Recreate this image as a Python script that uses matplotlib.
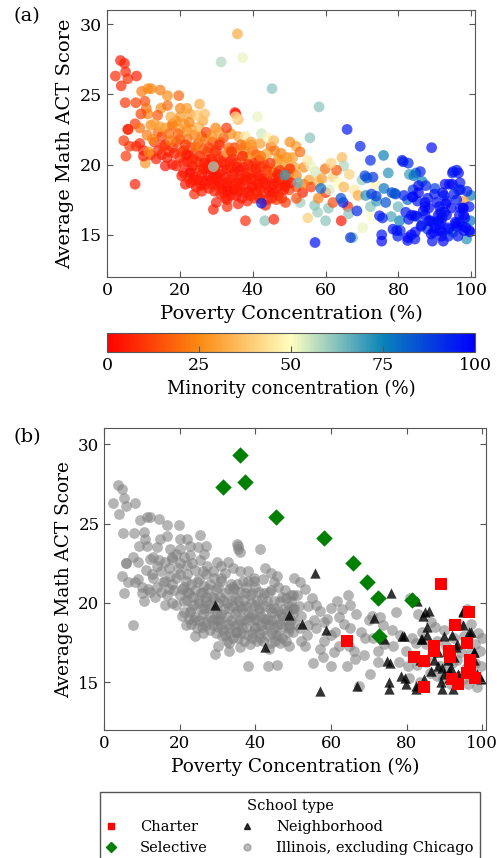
import matplotlib
matplotlib.use('Agg')
import matplotlib.pyplot as plt
from matplotlib.colors import LinearSegmentedColormap
from matplotlib.lines import Line2D

# (poverty %, math ACT, minority %) -- schools outside Chicago
il_tail = [
    (3.7, 27.4, 5), (4.8, 27.2, 6), (2.3, 26.3, 8), (5.1, 26.6, 7), (5.7, 26.1, 9),
    (8.1, 26.3, 6), (3.9, 25.6, 8), (5.0, 24.4, 10), (7.9, 24.4, 12), (9.5, 25.2, 22),
    (11.2, 25.4, 25), (12.1, 25.4, 24), (14.6, 25.3, 22), (16.6, 24.9, 26), (19.7, 24.9, 18),
    (10.4, 24.5, 14), (10.8, 24.0, 20), (11.2, 23.6, 24), (14.8, 24.0, 26), (13.9, 23.5, 16),
    (16.6, 24.2, 20), (20.1, 24.0, 24), (21.9, 24.0, 28), (25.4, 24.3, 33), (22.8, 23.6, 30),
    (26.3, 23.1, 32), (20.1, 23.4, 28), (17.9, 22.8, 14), (7.7, 22.9, 10), (5.8, 22.5, 8),
    (4.6, 21.7, 10), (9.3, 23.6, 12), (29.8, 22.6, 24), (35.1, 23.7, 3), (35.4, 23.6, 4),
    (36.0, 23.2, 35), (41.3, 23.4, 52), (7.7, 18.6, 6), (10.5, 20.1, 28), (5.2, 20.6, 10),
    (6.2, 21.3, 9), (5.7, 22.5, 7),
]

il_core = [
    (8, 21.3, 8), (9, 22.6, 20), (10, 21.0, 6), (11, 22.1, 22), (12, 22.8, 26),
    (13, 21.6, 10), (14, 22.3, 18), (10, 20.6, 5), (12, 20.7, 9), (9, 21.5, 7),
    (13, 22.9, 30), (14, 21.0, 8), (15, 22.0, 12), (16, 21.4, 6), (17, 20.9, 10),
    (18, 20.0, 5), (19, 21.6, 14), (15, 20.7, 7), (16, 22.6, 28), (17, 22.2, 20),
    (18, 21.2, 9), (19, 19.9, 6), (20, 20.5, 8), (20, 21.8, 16), (16, 19.9, 4),
    (18, 22.9, 24), (20, 22.5, 30), (19, 23.1, 26), (21, 21.0, 5), (22, 20.2, 7),
    (23, 19.6, 4), (24, 20.8, 12), (25, 21.5, 18), (26, 19.3, 5), (27, 20.4, 8),
    (28, 21.2, 10), (29, 19.0, 4), (30, 20.0, 6), (21, 19.4, 3), (22, 21.8, 20),
    (23, 18.7, 5), (24, 19.1, 6), (25, 20.0, 35), (26, 22.0, 24), (27, 18.6, 4),
    (28, 19.7, 7), (29, 21.6, 12), (30, 18.5, 5), (22, 22.4, 26), (24, 22.1, 22),
    (26, 20.7, 42), (28, 18.3, 6), (30, 21.0, 9), (23, 21.2, 14), (25, 18.9, 3),
    (27, 21.8, 20), (29, 20.3, 8), (21, 20.1, 6), (26, 18.1, 5), (24, 17.9, 8),
    (31, 19.3, 4), (32, 20.6, 9), (33, 18.4, 5), (34, 19.8, 6), (35, 21.2, 10),
    (36, 18.9, 4), (37, 20.2, 30), (38, 19.4, 7), (39, 18.1, 5), (40, 19.9, 12),
    (31, 21.6, 20), (32, 18.0, 4), (33, 20.9, 32), (34, 17.8, 6), (35, 19.5, 5),
    (36, 20.7, 28), (37, 17.6, 4), (38, 21.4, 22), (39, 20.6, 38), (40, 18.5, 6),
    (31, 18.6, 3), (33, 19.7, 8), (35, 18.2, 5), (37, 19.0, 6), (39, 19.3, 10),
    (32, 21.9, 14), (34, 21.0, 25), (36, 22.0, 30), (38, 18.0, 4), (40, 21.0, 18),
    (30, 17.3, 5), (33, 17.5, 4), (36, 17.2, 6), (38, 22.0, 45), (34, 22.2, 26),
    (41, 19.5, 8), (42, 18.3, 5), (43, 20.1, 12), (44, 18.9, 6), (45, 19.7, 20),
    (46, 18.0, 4), (47, 19.2, 7), (48, 20.3, 30), (49, 18.6, 9), (50, 19.6, 26),
    (41, 20.7, 18), (42, 17.6, 6), (43, 19.0, 5), (44, 20.8, 36), (45, 18.4, 8),
    (46, 21.0, 22), (47, 17.8, 5), (48, 18.9, 10), (49, 19.8, 34), (50, 18.2, 12),
    (42, 21.5, 30), (44, 17.5, 6), (46, 19.5, 14), (48, 17.6, 8), (50, 20.5, 40),
    (43, 18.0, 7), (45, 21.3, 20), (47, 20.4, 26), (49, 17.3, 10), (41, 18.1, 5),
    (20.5, 19.2, 5), (21.5, 18.6, 4), (22.5, 19.0, 6), (23.5, 20.4, 9), (24.5, 18.4, 5),
    (25.5, 19.6, 7), (26.5, 21.1, 16), (27.5, 19.9, 6), (28.5, 18.9, 4), (29.5, 19.6, 8),
    (30.5, 19.0, 5), (31.5, 20.2, 7), (32.5, 19.1, 4), (33.5, 18.9, 6), (34.5, 18.6, 8),
    (35.5, 20.1, 12), (36.5, 19.6, 5), (37.5, 18.5, 6), (38.5, 20.5, 26), (39.5, 19.0, 4),
    (40.5, 18.9, 7), (41.5, 19.2, 5), (42.5, 19.8, 9), (43.5, 18.6, 6), (44.5, 19.4, 28),
    (45.5, 18.0, 5), (46.5, 20.1, 32), (47.5, 18.5, 7), (48.5, 19.5, 22), (49.5, 18.9, 6),
    (20.5, 20.9, 14), (21.5, 21.4, 10), (22.5, 20.6, 7), (23.5, 19.9, 5), (24.5, 21.3, 20),
    (25.5, 20.6, 8), (26.5, 19.7, 5), (27.5, 20.9, 12), (28.5, 20.4, 6), (29.5, 20.9, 10),
    (30.5, 20.4, 8), (31.5, 18.3, 4), (32.5, 20.0, 6), (33.5, 21.2, 18), (34.5, 20.4, 7),
    (35.5, 18.7, 4), (36.5, 18.4, 5), (37.5, 21.0, 24), (38.5, 19.1, 6), (39.5, 21.6, 30),
    (40.5, 20.1, 10), (41.5, 18.6, 5), (42.5, 19.0, 6), (43.5, 20.7, 35), (44.5, 18.1, 4),
    (45.5, 19.0, 7), (46.5, 18.7, 6), (47.5, 19.6, 10), (48.5, 18.2, 5), (49.5, 20.1, 34),
    (26.5, 18.8, 4), (29.5, 18.1, 6), (32.5, 17.6, 5), (35.5, 17.8, 4), (38.5, 17.4, 6),
    (40.5, 17.6, 8), (43.5, 17.1, 6), (46.5, 17.5, 10), (34.5, 19.3, 5), (37.5, 19.8, 6),
    (12.5, 21.8, 24), (13.5, 20.4, 6), (14.5, 22.7, 30), (15.5, 21.3, 9), (16.5, 20.5, 5),
    (17.5, 21.7, 22), (18.5, 20.8, 7), (19.5, 22.2, 18), (11.5, 20.9, 26), (17.5, 23.4, 32),
    (21.2, 22.9, 28), (23.2, 22.5, 30), (25.2, 22.7, 34), (27.2, 22.3, 12), (28.8, 22.0, 26),
    (30.8, 22.3, 30), (32.8, 22.6, 10), (24.8, 23.5, 38), (22.6, 23.0, 24), (26.8, 23.6, 36),
    (21.8, 20.7, 4), (22.8, 19.4, 3), (23.8, 18.9, 5), (24.8, 20.2, 6), (25.8, 18.5, 4),
    (26.8, 20.1, 5), (27.8, 19.2, 3), (28.8, 18.6, 5), (29.8, 19.3, 4), (30.8, 21.4, 8),
    (31.8, 19.6, 5), (32.8, 18.7, 4), (33.8, 20.2, 6), (34.8, 18.2, 5), (35.8, 19.8, 4),
    (36.8, 21.4, 20), (37.8, 18.9, 5), (38.8, 20.0, 6), (39.8, 18.4, 4), (40.8, 19.7, 6),
    (41.8, 20.3, 9), (42.8, 18.7, 5), (43.8, 19.6, 8), (44.8, 20.1, 10), (45.8, 18.6, 4),
    (46.8, 19.3, 6), (47.8, 20.8, 24), (48.8, 18.4, 5), (49.8, 19.3, 20), (51.5, 19.8, 30),
    (30.2, 18.9, 4), (31.2, 17.9, 6), (33.2, 18.1, 3), (34.2, 20.9, 9), (36.2, 18.1, 5),
    (37.2, 20.6, 6), (39.2, 17.8, 5), (41.2, 17.8, 7), (42.2, 20.6, 22), (45.2, 17.6, 6),
]

il_mid = [
    (51.9, 21.3, 30), (50.2, 21.6, 25), (42.4, 22.2, 55), (44.2, 21.9, 48), (39.6, 21.4, 28),
    (45.8, 21.7, 35), (35.3, 23.4, 45), (49.3, 20.5, 28), (50.2, 19.7, 8), (51.9, 18.4, 14),
    (53.7, 18.0, 6), (55.5, 18.9, 30), (57.2, 19.5, 55), (59.9, 19.7, 20), (62.1, 19.1, 40),
    (63.5, 18.7, 50), (64.5, 20.5, 35), (65.0, 19.9, 58), (67.9, 18.2, 45), (66.1, 17.0, 8),
    (68.9, 17.8, 32), (60.8, 16.9, 62), (57.8, 16.6, 60), (55.1, 16.2, 40), (60.0, 16.0, 62),
    (64.3, 16.0, 4), (66.3, 16.5, 62), (70.2, 15.5, 52), (67.4, 14.8, 65), (72.5, 16.3, 50),
    (72.3, 17.0, 62), (73.7, 18.6, 48), (77.2, 19.4, 72), (79.9, 17.0, 65), (82.5, 17.5, 80),
    (80.3, 16.0, 75), (99.9, 17.8, 75), (99.7, 16.0, 78), (98.7, 14.7, 72), (83.0, 19.3, 70),
    (29.2, 16.8, 6), (33.0, 17.0, 8), (38.0, 16.0, 8), (43.3, 16.0, 62), (45.8, 16.1, 6),
    (52, 19.2, 24), (54, 19.8, 26), (56, 18.4, 10), (58, 18.8, 36), (60, 18.0, 8),
    (53, 17.3, 60), (55, 20.3, 45), (57, 17.1, 62), (59, 19.0, 30), (61, 18.2, 54),
    (62, 17.3, 14), (63, 19.6, 16), (56, 19.9, 52), (58, 17.6, 24), (61.5, 20.1, 40),
    (54, 18.6, 22), (52, 17.6, 14), (50.5, 18.7, 5), (51, 20.5, 30), (53, 20.9, 20),
    (65, 18.4, 34), (66.5, 19.3, 40), (70, 18.9, 60), (71, 17.8, 72), (74, 17.4, 70),
    (76, 18.3, 78), (78, 16.3, 68), (85, 16.3, 85), (88, 15.4, 90), (97, 16.9, 95),
    (98, 17.4, 30), (95, 15.2, 80), (92, 16.2, 88), (86.5, 18.8, 75), (90, 18.3, 88),
]

il_high = [
    (80.5, 15.3, 92), (81.5, 17.8, 94), (82.8, 16.1, 96), (83.5, 15.0, 97), (85.2, 17.4, 95),
    (86.2, 15.6, 98), (86.8, 16.7, 97), (88.0, 17.6, 96), (88.8, 16.0, 99), (89.6, 15.2, 98),
    (90.5, 17.3, 97), (91.0, 16.0, 99), (91.8, 14.9, 98), (92.5, 17.8, 96), (93.2, 16.4, 99),
    (93.8, 15.4, 97), (94.5, 16.9, 98), (95.2, 17.9, 95), (95.6, 15.9, 99), (96.3, 14.9, 97),
    (96.9, 18.7, 96), (97.5, 15.6, 99), (98.2, 16.2, 98), (98.8, 18.1, 94), (99.4, 17.0, 96),
    (87.5, 18.5, 93), (84.0, 18.2, 90), (81.0, 20.3, 95), (78.2, 18.0, 88), (76.5, 17.3, 85),
    (73.0, 19.1, 90), (70.8, 19.2, 88), (68.6, 16.7, 92), (64.8, 17.3, 94), (96.0, 19.6, 96),
    (94.0, 18.6, 97),
]

# Chicago schools by type
charter_pov = [64.2, 89.1, 96.5, 92.8, 96.0, 87.3, 87.3, 91.2, 91.6, 82.0,
               84.5, 96.7, 96.8, 96.0, 92.0, 93.7, 98.0, 84.5]
charter_act = [17.6, 21.2, 19.4, 18.6, 17.5, 17.3, 17.0, 17.0, 16.6, 16.6,
               16.35, 16.4, 15.9, 15.6, 15.2, 14.9, 15.3, 14.7]
charter_min = [85, 98, 97, 99, 96, 98, 99, 97, 98, 96,
               99, 98, 97, 99, 98, 96, 99, 97]

selective_pov = [31.3, 35.8, 37.2, 45.3, 58.2, 65.9, 69.5, 72.3, 81.3, 72.6]
selective_act = [27.3, 29.3, 27.6, 25.4, 24.1, 22.5, 21.3, 20.3, 20.2, 17.9]
selective_min = [58, 32, 52, 62, 62, 95, 93, 92, 95, 88]

neigh_pov = [29.2, 55.7, 48.8, 52.4, 58.7, 42.4, 57.1, 66.8, 75.9, 82.7,
             71.4, 73.9, 74.8, 79.2, 84.8, 86.0, 85.5, 75.4, 75.4, 78.5,
             79.8, 82.5, 83.6, 84.0, 84.6, 88.3, 89.0, 89.3, 89.9, 88.3,
             90.9, 91.7, 92.6, 93.3, 94.8, 94.8, 97.0, 97.7, 97.9, 99.6,
             98.5, 92.3, 93.6, 95.8, 90.0, 87.3, 86.4, 91.3, 84.2, 78.9,
             83.8, 85.5, 92.1, 96.5, 95.0, 93.0, 89.4, 91.2, 97.8, 99.5,
             75.6, 79.5, 82.6]
neigh_act = [19.85, 21.9, 19.25, 18.7, 18.3, 17.25, 14.45, 14.8, 20.65, 20.1,
             19.05, 17.75, 16.35, 17.9, 19.4, 19.5, 18.5, 15.0, 14.55, 15.4,
             14.9, 14.6, 16.4, 17.7, 15.2, 16.0, 15.05, 14.55, 17.9, 16.9,
             16.4, 15.9, 16.6, 17.4, 19.4, 18.6, 18.2, 16.9, 16.4, 15.2,
             15.5, 14.55, 15.5, 15.8, 15.5, 16.4, 15.7, 15.3, 19.2, 17.95,
             17.7, 18.0, 18.0, 18.2, 19.5, 17.2, 15.9, 15.7, 16.9, 15.3,
             16.2, 15.3, 14.8]
neigh_min = [60, 62, 70, 65, 80, 95, 97, 90, 75, 92,
             85, 88, 96, 90, 80, 94, 98, 96, 99, 97,
             95, 98, 99, 97, 99, 98, 99, 97, 96, 98,
             99, 98, 97, 96, 92, 99, 95, 98, 99, 97,
             98, 99, 97, 98, 99, 98, 96, 99, 78, 82,
             97, 99, 98, 94, 96, 99, 98, 97, 99, 98,
             94, 97, 99]

minority_ticks = [0, 25, 50, 75, 100]

il_all = il_tail + il_core + il_mid + il_high
il_pov = [p[0] for p in il_all]
il_act = [p[1] for p in il_all]
il_min = [p[2] for p in il_all]

cmap = LinearSegmentedColormap.from_list(
    'minority', [(0.0, '#ff0000'), (0.25, '#fb8a12'), (0.5, '#ffffc0'),
                 (0.75, '#0a84b8'), (1.0, '#0000ff')])

plt.rcParams['font.family'] = 'DejaVu Serif'
plt.rcParams['axes.edgecolor'] = '#555555'
plt.rcParams['xtick.color'] = '#555555'
plt.rcParams['ytick.color'] = '#555555'
plt.rcParams['xtick.labelcolor'] = 'black'
plt.rcParams['ytick.labelcolor'] = 'black'
plt.rcParams['xtick.direction'] = 'in'
plt.rcParams['ytick.direction'] = 'in'
plt.rcParams['xtick.top'] = True
plt.rcParams['ytick.right'] = True

fig = plt.figure(figsize=(4.97, 8.58), dpi=100)

# ---- panel (a)
ax1 = fig.add_axes([0.2153, 0.6772, 0.7404, 0.3112])
all_pov = il_pov + neigh_pov + charter_pov + selective_pov
all_act = il_act + neigh_act + charter_act + selective_act
all_min = il_min + neigh_min + charter_min + selective_min
sc = ax1.scatter(all_pov, all_act, c=all_min, cmap=cmap, vmin=0, vmax=100,
                 s=60, alpha=0.7, linewidths=0)
ax1.set_xlim(0, 101)
ax1.set_ylim(12, 31)
ax1.set_xticks([0, 20, 40, 60, 80, 100])
ax1.set_yticks([15, 20, 25, 30])
ax1.tick_params(labelsize=12.5, length=4)
ax1.set_xlabel('Poverty Concentration (%)', fontsize=14)
ax1.set_ylabel('Average Math ACT Score', fontsize=14)
fig.text(0.028, 0.981, '(a)', fontsize=14, va='center')

cax = fig.add_axes([0.2153, 0.5897, 0.7404, 0.0221])
cb = fig.colorbar(sc, cax=cax, orientation='horizontal', ticks=minority_ticks)
cb.solids.set_alpha(1)
cb.outline.set_edgecolor('#555555')
cax.tick_params(labelsize=12.5, length=4, direction='in', top=False)
cb.set_label('Minority concentration (%)', fontsize=13)

# ---- panel (b)
ax2 = fig.add_axes([0.2099, 0.1492, 0.768, 0.3516])
ax2.scatter(il_pov, il_act, s=60, color='#808080', alpha=0.58, linewidths=0)
ax2.scatter(neigh_pov, neigh_act, s=55, marker='^', color='black',
            alpha=0.8, linewidths=0)
ax2.scatter(selective_pov, selective_act, s=70, marker='D', color='#008000',
            linewidths=0)
ax2.scatter(charter_pov, charter_act, s=65, marker='s', color='#ff0000',
            linewidths=0)
ax2.set_xlim(0, 101)
ax2.set_ylim(12, 31)
ax2.set_xticks([0, 20, 40, 60, 80, 100])
ax2.set_yticks([15, 20, 25, 30])
ax2.tick_params(labelsize=12, length=4)
ax2.set_xlabel('Poverty Concentration (%)', fontsize=13.3)
ax2.set_ylabel('Average Math ACT Score', fontsize=13.3)
fig.text(0.028, 0.491, '(b)', fontsize=14, va='center')

handles = [
    Line2D([], [], ls='none', marker='s', color='#ff0000', markersize=5),
    Line2D([], [], ls='none', marker='D', color='#008000', markersize=5),
    Line2D([], [], ls='none', marker='^', color='black', alpha=0.8, markersize=5),
    Line2D([], [], ls='none', marker='o', color='#808080', alpha=0.55, markersize=5),
]
labels = ['Charter', 'Selective', 'Neighborhood', 'Illinois, excluding Chicago']
leg = fig.legend(handles, labels, loc='upper left',
                 bbox_to_anchor=(100 / 497, 1 - 792 / 858), ncol=2,
                 title='School type', fontsize=10.5, title_fontsize=10.5,
                 frameon=True, fancybox=False, framealpha=1,
                 handlelength=0.6, handletextpad=1.7, columnspacing=2.4,
                 borderpad=0.45, borderaxespad=0, labelspacing=0.5)
leg.get_frame().set_edgecolor('#555555')

fig.savefig('out.png', dpi=100)
